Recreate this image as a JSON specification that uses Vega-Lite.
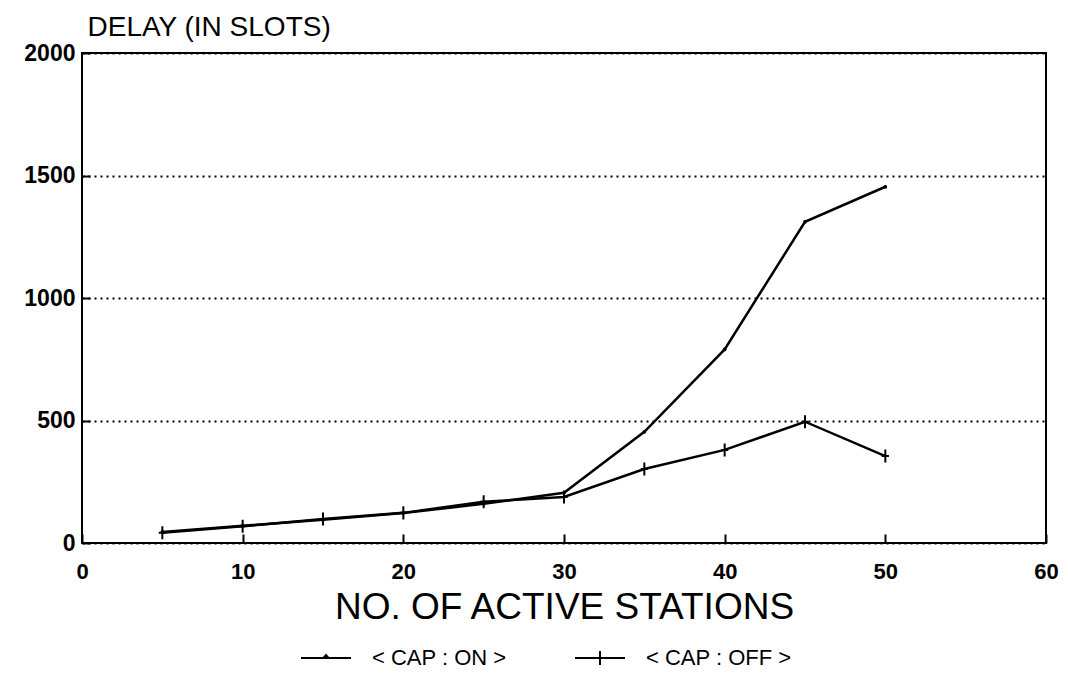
{
  "$schema": "https://vega.github.io/schema/vega-lite/v6.json",
  "width": 964,
  "height": 490,
  "autosize": {"type": "none"},
  "padding": {"left": 82, "top": 53, "right": 22, "bottom": 151},
  "background": "white",
  "config": {
    "view": {"stroke": "black", "strokeWidth": 2},
    "font": "Liberation Sans"
  },
  "data": {
    "values": [
      {"stations": 5, "delay": 45, "series": "< CAP : ON >"},
      {"stations": 10, "delay": 70, "series": "< CAP : ON >"},
      {"stations": 15, "delay": 95, "series": "< CAP : ON >"},
      {"stations": 20, "delay": 122, "series": "< CAP : ON >"},
      {"stations": 25, "delay": 160, "series": "< CAP : ON >"},
      {"stations": 30, "delay": 205, "series": "< CAP : ON >"},
      {"stations": 35, "delay": 454, "series": "< CAP : ON >"},
      {"stations": 40, "delay": 790, "series": "< CAP : ON >"},
      {"stations": 45, "delay": 1311, "series": "< CAP : ON >"},
      {"stations": 50, "delay": 1454, "series": "< CAP : ON >"},
      {"stations": 5, "delay": 42, "series": "< CAP : OFF >"},
      {"stations": 10, "delay": 68, "series": "< CAP : OFF >"},
      {"stations": 15, "delay": 98, "series": "< CAP : OFF >"},
      {"stations": 20, "delay": 123, "series": "< CAP : OFF >"},
      {"stations": 25, "delay": 168, "series": "< CAP : OFF >"},
      {"stations": 30, "delay": 188, "series": "< CAP : OFF >"},
      {"stations": 35, "delay": 302, "series": "< CAP : OFF >"},
      {"stations": 40, "delay": 380, "series": "< CAP : OFF >"},
      {"stations": 45, "delay": 495, "series": "< CAP : OFF >"},
      {"stations": 50, "delay": 355, "series": "< CAP : OFF >"}
    ]
  },
  "encoding": {
    "x": {
      "field": "stations",
      "type": "quantitative",
      "scale": {"domain": [0, 60], "nice": false, "zero": false},
      "axis": {
        "values": [0, 10, 20, 30, 40, 50, 60],
        "format": "d",
        "offset": -9,
        "title": "NO. OF ACTIVE STATIONS",
        "titleFontSize": 37,
        "titleFontWeight": "normal",
        "titleColor": "black",
        "titlePadding": 7,
        "labelFontSize": 22,
        "labelFontWeight": "bold",
        "labelColor": "black",
        "labelPadding": 18,
        "ticks": true,
        "tickSize": 9,
        "tickColor": "black",
        "tickWidth": 2,
        "domain": false,
        "grid": false,
        "labelFlush": false
      }
    },
    "y": {
      "field": "delay",
      "type": "quantitative",
      "scale": {"domain": [0, 2000], "nice": false},
      "axis": {
        "values": [0, 500, 1000, 1500, 2000],
        "format": "d",
        "offset": -8,
        "title": "DELAY (IN SLOTS)",
        "titleAngle": 0,
        "titleAlign": "left",
        "titleBaseline": "alphabetic",
        "titleX": -3,
        "titleY": -18,
        "titleFontSize": 28,
        "titleFontWeight": "normal",
        "titleColor": "black",
        "labelFontSize": 23,
        "labelFontWeight": "bold",
        "labelColor": "black",
        "labelPadding": 7,
        "ticks": true,
        "tickSize": 8,
        "tickColor": "black",
        "tickWidth": 2,
        "domain": false,
        "grid": true,
        "gridColor": "black",
        "gridDash": [2, 4],
        "gridWidth": 2,
        "gridOpacity": 1,
        "labelFlush": false
      }
    }
  },
  "layer": [
    {
      "mark": {"type": "line", "strokeWidth": 2.5},
      "encoding": {
        "color": {
          "field": "series",
          "type": "nominal",
          "scale": {"domain": ["< CAP : ON >", "< CAP : OFF >"], "range": ["black", "black"]},
          "legend": {
            "title": null,
            "orient": "none",
            "legendX": 218,
            "legendY": 579,
            "direction": "horizontal",
            "columns": 2,
            "columnPadding": 64,
            "labelFontSize": 22,
            "labelColor": "black",
            "labelOffset": 20,
            "symbolSize": 2500,
            "symbolStrokeWidth": 2,
            "encode": {
              "symbols": {
                "update": {
                  "shape": {"signal": "datum.value == '< CAP : ON >' ? 'M-1,0L1,0M-0.1,0L0,-0.12L0.1,0' : 'M-1,0L1,0M0,-0.28L0,0.28'"},
                  "size": {"value": 2500},
                  "fill": {"value": "transparent"},
                  "stroke": {"value": "black"},
                  "strokeWidth": {"value": 2}
                }
              }
            }
          }
        }
      }
    },
    {
      "transform": [{"filter": "datum.series == '< CAP : OFF >'"}],
      "mark": {"type": "point", "filled": false, "strokeWidth": 2, "color": "black", "opacity": 1, "shape": "M-0.55,0L0.55,0M0,-1L0,1", "size": 170},
      "encoding": {}
    },
    {
      "transform": [{"filter": "datum.series == '< CAP : ON >'"}],
      "mark": {"type": "point", "filled": true, "color": "black", "opacity": 1, "shape": "circle", "size": 14},
      "encoding": {}
    }
  ]
}
